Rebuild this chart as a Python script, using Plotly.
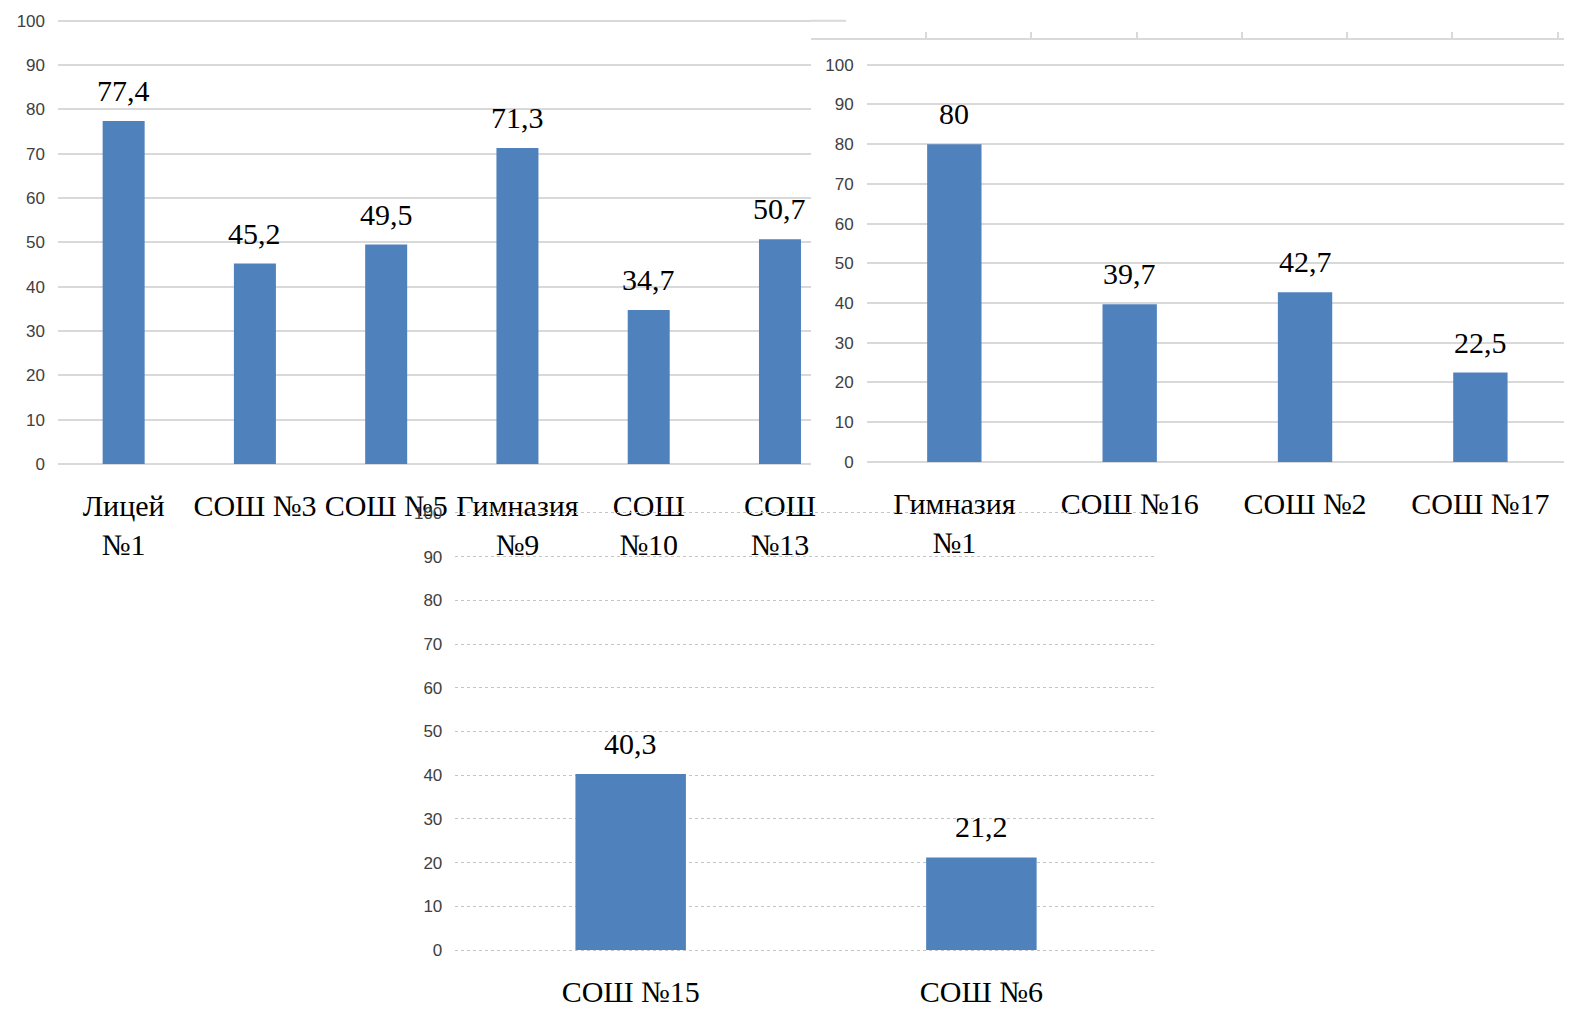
import plotly.graph_objects as go

# ---------------- data ----------------
cats_a = ["Лицей<br>№1", "СОШ №3", "СОШ №5", "Гимназия<br>№9", "СОШ<br>№10", "СОШ<br>№13"]
vals_a = [77.4, 45.2, 49.5, 71.3, 34.7, 50.7]

cats_b = ["Гимназия<br>№1", "СОШ №16", "СОШ №2", "СОШ №17"]
vals_b = [80, 39.7, 42.7, 22.5]

cats_c = ["СОШ №15", "СОШ №6"]
vals_c = [40.3, 21.2]

y_ticks = [0, 10, 20, 30, 40, 50, 60, 70, 80, 90, 100]

# ---------------- layout helpers ----------------
W, H = 1569, 1028
BAR = "#4F81BD"
SERIF = "Liberation Serif, Times New Roman, serif"
TICKFONT = dict(family="Liberation Sans Narrow, Liberation Sans, Arial", size=17, color="#404040")

# small correction between figure pixels and the captured picture
SX, OX = 0.9948, 0.6
SY, OY = 0.987, 4.26


def fx(p):
    return ((p - OX) / SX) / W


def fy(p):
    return 1 - ((p - OY) / SY) / H


def xspan(p0, p1, r0, r1):
    """domain + range for an x axis whose range [r0, r1] should cover pixels p0..p1"""
    d0, d1 = fx(p0), fx(p1)
    if d1 > 1:
        r1 = r0 + (r1 - r0) * (1 - d0) / (d1 - d0)
        d1 = 1
    return [max(d0, 0), d1], [r0, r1]


def ydomain(zero_px, hundred_px, r0, r1):
    unit = (zero_px - hundred_px) / 100.0
    return [fy(zero_px - r0 * unit), fy(zero_px - r1 * unit)]


def fmt(v):
    return f"{v:g}".replace(".", ",")


YR = [-0.5, 101]

fig = go.Figure()

fig.add_trace(go.Bar(x=cats_a, y=vals_a, marker=dict(color=BAR, line=dict(width=0)),
                     width=0.32, xaxis="x", yaxis="y", showlegend=False))
fig.add_trace(go.Bar(x=cats_b, y=vals_b, marker=dict(color=BAR, line=dict(width=0)),
                     width=0.31, xaxis="x2", yaxis="y2", showlegend=False))
fig.add_trace(go.Bar(x=cats_c, y=vals_c, marker=dict(color=BAR, line=dict(width=0)),
                     width=0.315, xaxis="x3", yaxis="y3", showlegend=False))
# decorative leftover axis (top edge of chart B's image)
fig.add_trace(go.Scatter(x=[], y=[], xaxis="x4", yaxis="y4", showlegend=False))

annotations = []
for cats, vals, xr, yr in [(cats_a, vals_a, "x", "y"), (cats_b, vals_b, "x2", "y2"), (cats_c, vals_c, "x3", "y3")]:
    for c, v in zip(cats, vals):
        annotations.append(dict(x=c, y=v, xref=xr, yref=yr, text=fmt(v), showarrow=False,
                                yanchor="bottom", yshift=12,
                                font=dict(family=SERIF, size=30, color="#000000")))


def xcat(span, anchor):
    dom, rng = span
    return dict(domain=dom, range=rng, type="category", showgrid=False, zeroline=False,
                showline=False, ticks="", tickfont=dict(family=SERIF, size=30, color="#000000"),
                ticklabelstandoff=19, anchor=anchor)


def ylin(domain, anchor, dash, gcolor, gwidth):
    return dict(domain=domain, range=YR, anchor=anchor, tickvals=y_ticks, showgrid=True,
                gridcolor=gcolor, gridwidth=gwidth, griddash=dash, zeroline=False,
                showline=False, ticks="", tickfont=TICKFONT, ticklabelstandoff=12)


xa_end = 810
xa = xcat(xspan(58.5, xa_end, -0.5, -0.5 + (xa_end - 58.5) / 131.0), "y")
xb = xcat(xspan(865.5, 1565.5, -0.5, 3.5), "y2")
xc = xcat(xspan(455, 1155, -0.5, 1.5), "y3")

ya = ylin(ydomain(463, 20, *YR), "x", "solid", "#d9d9d9", 2)
yb = ylin(ydomain(461, 64, *YR), "x2", "solid", "#d9d9d9", 2)
yc = ylin(ydomain(949, 512, *YR), "x3", "dot", "#c4c4c4", 1)

x4_dom, x4_rng = xspan(810, W, -(925 - 810) / 105.0, (W - 925) / 105.0)
x4 = dict(domain=x4_dom, range=x4_rng,
          tickvals=[0, 1, 2, 3, 4, 5, 6],
          showgrid=False, zeroline=False, showline=True, linecolor="#d9d9d9", linewidth=2,
          ticks="inside", ticklen=6, tickcolor="#d9d9d9", tickwidth=1.5, showticklabels=False,
          anchor="y4")
y4 = dict(domain=[fy(37), fy(28)], range=[0, 1], visible=False, anchor="x4")

shapes = [
    dict(type="line", xref="paper", yref="paper", x0=fx(xa_end), x1=fx(845),
         y0=fy(20), y1=fy(20), line=dict(color="#d9d9d9", width=2)),
]

fig.update_layout(
    width=W, height=H, autosize=False,
    margin=dict(l=0, r=0, t=0, b=0, pad=0),
    paper_bgcolor="#ffffff", plot_bgcolor="rgba(0,0,0,0)",
    showlegend=False,
    xaxis=xa, yaxis=ya, xaxis2=xb, yaxis2=yb, xaxis3=xc, yaxis3=yc, xaxis4=x4, yaxis4=y4,
    annotations=annotations, shapes=shapes,
)

fig.write_html("out.html", config={"displayModeBar": False},
               post_script="document.body.style.margin='0px';document.body.style.overflow='hidden';")
